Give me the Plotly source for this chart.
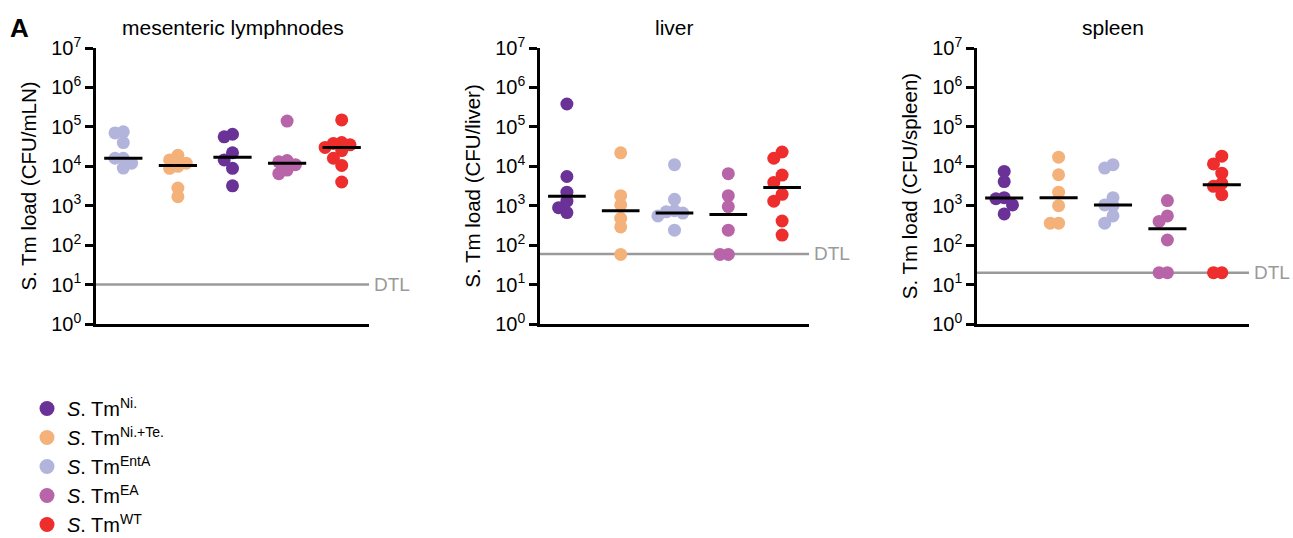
import math
import plotly.graph_objects as go

# ---------------- data ----------------
group_keys = ["Ni.", "Ni.+Te.", "EntA", "EA", "WT"]
group_colors = {"Ni.": "#6a3296", "Ni.+Te.": "#f4b27a", "EntA": "#b2b4dc",
                "EA": "#b864a8", "WT": "#ee2d2d"}

panel_titles = ["mesenteric lymphnodes", "liver", "spleen"]
axis_titles = ["S. Tm load (CFU/mLN)", "S. Tm load (CFU/liver)", "S. Tm load (CFU/spleen)"]

mln_order = ["EntA", "Ni.+Te.", "Ni.", "EA", "WT"]
organ_order = ["Ni.", "Ni.+Te.", "EntA", "EA", "WT"]

mln_EntA = [75000, 70000, 40000, 16000, 16000, 12000, 9000]
mln_NiTe = [19000, 14500, 12000, 10000, 8900, 2800, 1700]
mln_Ni = [65000, 56000, 22000, 14500, 8900, 3200]
mln_EA = [140000, 14000, 13000, 11000, 8000, 6500]
mln_WT = [150000, 40000, 38000, 35000, 30000, 25000, 16000, 10500, 4000]
mln_lines = [16000, 10500, 17000, 12000, 30000]

liv_Ni = [380000, 5500, 2200, 1300, 890, 670]
liv_NiTe = [22000, 1800, 1050, 480, 290, 58]
liv_EntA = [11000, 1450, 750, 700, 650, 550, 240]
liv_EA = [6500, 1800, 950, 240, 58, 58]
liv_WT = [23000, 16000, 6000, 3900, 1950, 1300, 410, 180]
liv_lines = [1750, 750, 650, 600, 2900]

spl_Ni = [7400, 4100, 1600, 1500, 1050, 620]
spl_NiTe = [17000, 6100, 2200, 1000, 360, 360]
spl_EntA = [11000, 9000, 1600, 1050, 1000, 550, 360]
spl_EA = [1350, 550, 400, 135, 20, 20]
spl_WT = [18000, 11500, 6700, 3700, 3100, 1900, 20, 20]
spl_lines = [1560, 1600, 1040, 260, 3400]

dtl_values = [10, 60, 20]

panels = [
    (mln_order, [mln_EntA, mln_NiTe, mln_Ni, mln_EA, mln_WT], mln_lines),
    (organ_order, [liv_Ni, liv_NiTe, liv_EntA, liv_EA, liv_WT], liv_lines),
    (organ_order, [spl_Ni, spl_NiTe, spl_EntA, spl_EA, spl_WT], spl_lines),
]

# ---------------- layout geometry ----------------
W, H = 1293, 538
x_dom_px = [(96, 369), (540, 809), (977, 1249)]
y_top_px, y_bot_px = 48, 324
FONT = "Liberation Sans, Arial, sans-serif"


def swarm(vals, px_dec, px_unit, d=8.0, step=8.3):
    placed, offs = [], []
    for v in vals:
        y = math.log10(v) * px_dec
        chosen = 0.0
        for k in [0, -1, 1, -2, 2, -3, 3]:
            x = k * step
            if all((x - px) ** 2 + (y - py) ** 2 >= d * d for px, py in placed):
                chosen = x
                break
        placed.append((chosen, y))
        offs.append(chosen / px_unit)
    return offs


fig = go.Figure()
px_dec = (y_bot_px - y_top_px) / 7.0

for p, (order, series, lines) in enumerate(panels):
    xa = "x" if p == 0 else f"x{p+1}"
    ya = "y" if p == 0 else f"y{p+1}"
    px_unit = (x_dom_px[p][1] - x_dom_px[p][0]) / 5.0
    # DTL line
    fig.add_trace(go.Scatter(x=[-0.5, 4.5], y=[dtl_values[p]] * 2, mode="lines",
                             line=dict(color="#9a9a9a", width=2.5), xaxis=xa, yaxis=ya,
                             showlegend=False, hoverinfo="skip", cliponaxis=False))
    for i, (key, vals) in enumerate(zip(order, series)):
        offs = swarm(vals, px_dec, px_unit)
        fig.add_trace(go.Scatter(x=[i + o for o in offs], y=vals, mode="markers",
                                 marker=dict(size=13, color=group_colors[key], line=dict(width=0)),
                                 xaxis=xa, yaxis=ya, showlegend=False, cliponaxis=False))
    lx, ly = [], []
    for i, m in enumerate(lines):
        lx += [i - 0.35, i + 0.35, None]
        ly += [m, m, None]
    fig.add_trace(go.Scatter(x=lx, y=ly, mode="lines", line=dict(color="black", width=3),
                             xaxis=xa, yaxis=ya, showlegend=False, hoverinfo="skip",
                             cliponaxis=False))

# legend entries
for k, key in enumerate(group_keys):
    fig.add_trace(go.Scatter(x=[None], y=[None], mode="markers",
                             marker=dict(size=15, color=group_colors[key]),
                             name=f"<i>S</i>. Tm<sup>{key}</sup>", legendgroup=f"g{k}"))

tickvals = [10 ** k for k in range(8)]
ticktext = [f"10<sup>{k}</sup>" for k in range(8)]

layout = dict(
    width=W, height=H, paper_bgcolor="white", plot_bgcolor="white",
    margin=dict(l=0, r=0, t=0, b=0, autoexpand=False),
    font=dict(family=FONT, size=20, color="black"),
    legend=dict(x=27 / W, y=1 - 389 / H, xanchor="left", yanchor="top",
                font=dict(size=20), tracegroupgap=0, bgcolor="rgba(0,0,0,0)"),
    annotations=[],
)
for p in range(3):
    sx = "" if p == 0 else str(p + 1)
    layout[f"xaxis{sx}"] = dict(
        domain=[x_dom_px[p][0] / W, x_dom_px[p][1] / W], range=[-0.5, 4.5],
        anchor=f"y{sx}", showline=True, linecolor="black", linewidth=2.5,
        showticklabels=False, ticks="", showgrid=False, zeroline=False, fixedrange=True,
        automargin=False)
    layout[f"yaxis{sx}"] = dict(
        domain=[1 - y_bot_px / H, 1 - y_top_px / H], type="log", range=[0, 7],
        anchor=f"x{sx}", showline=True, linecolor="black", linewidth=2.5,
        tickvals=tickvals, ticktext=ticktext, ticks="outside", ticklen=8, tickwidth=2.5,
        tickcolor="black", tickfont=dict(size=20), showgrid=False, zeroline=False,
        title=dict(text=axis_titles[p], font=dict(size=20.5), standoff=10), fixedrange=True,
        automargin=False)
    layout["annotations"].append(dict(
        text=panel_titles[p], xref="paper", yref="paper",
        x=(x_dom_px[p][0] + x_dom_px[p][1]) / 2 / W, y=1 - 28 / H,
        xanchor="center", yanchor="middle", showarrow=False, font=dict(size=21)))
    layout["annotations"].append(dict(
        text="DTL", xref=f"x{sx} domain", yref=f"y{sx}", x=1, y=math.log10(dtl_values[p]),
        xanchor="left", yanchor="middle", xshift=3, showarrow=False,
        font=dict(size=19, color="#9a9a9a")))

layout["annotations"].append(dict(
    text="<b>A</b>", xref="paper", yref="paper", x=8 / W, y=1 - 28 / H,
    xanchor="left", yanchor="middle", showarrow=False, font=dict(size=26)))

fig.update_layout(**layout)
fig.write_html("out.html", config={"displayModeBar": False},
               post_script="document.body.style.margin='0px';document.body.style.overflow='hidden';")
